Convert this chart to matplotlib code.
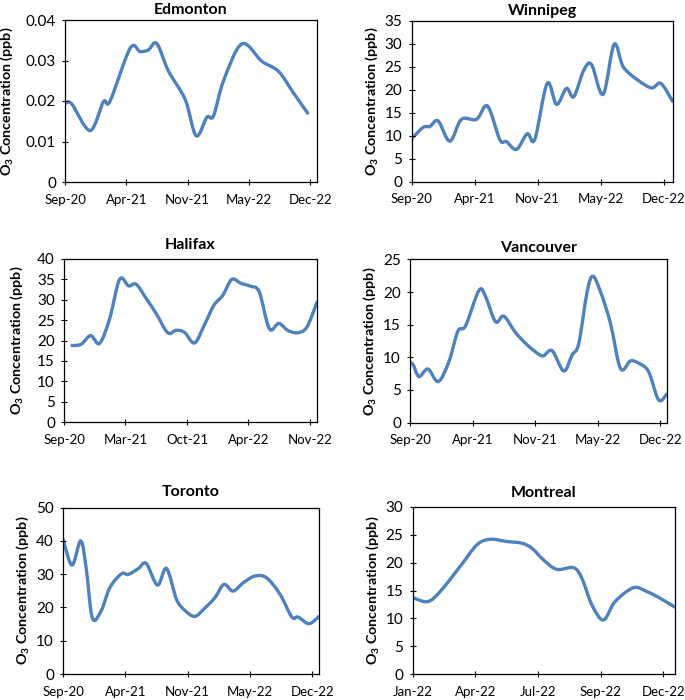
import numpy as np
import matplotlib
matplotlib.use("Agg")
import matplotlib.pyplot as plt
from matplotlib.path import Path
from matplotlib.patches import PathPatch
from matplotlib.ticker import FuncFormatter

plt.rcParams['font.family'] = ['Lato', 'DejaVu Sans']
plt.rcParams['mathtext.fontset'] = 'custom'
plt.rcParams['mathtext.rm'] = 'Lato'
plt.rcParams['mathtext.bf'] = 'Lato:bold'

# ---------------- data (x = months since axis start, y = O3) ----------------
edm_t = [0.0, 0.74, 2.79, 4.28, 5.02, 7.25, 8.36, 9.29, 10.22, 11.52, 13.38,
         14.61, 15.80, 16.54, 17.66, 19.70, 21.93, 23.79, 25.45, 27.03]
edm_o3 = [0.0193, 0.0193, 0.0127, 0.0198, 0.0200, 0.0330, 0.0322, 0.0326, 0.0342,
          0.0274, 0.0204, 0.0114, 0.0160, 0.0163, 0.0250, 0.0341, 0.0298, 0.0273,
          0.0220, 0.0170]
edm_ticks = ['Sep-20', 'Apr-21', 'Nov-21', 'May-22', 'Dec-22']

win_t = [0.0, 1.27, 2.0, 2.91, 4.18, 5.45, 7.09, 8.29, 9.64, 10.36, 11.45, 12.62,
         13.45, 14.8, 15.82, 16.9, 17.7, 18.8, 19.64, 20.9, 22.1, 23.1, 24.7, 26.2,
         27.2, 28.47]
win_o3 = [9.3, 11.8, 12.0, 13.2, 8.8, 13.55, 13.55, 16.45, 9.1, 8.7, 7.0, 10.4,
          9.2, 21.4, 16.8, 20.3, 18.5, 24.3, 25.5, 19.0, 29.9, 25.0, 22.1, 20.4,
          21.4, 17.5]
win_ticks = ['Sep-20', 'Apr-21', 'Nov-21', 'May-22', 'Dec-22']

hal_t = [0.855, 1.85, 2.85, 3.81, 4.88, 5.95, 6.91, 7.73, 8.80, 9.87, 11.1, 12.0,
         12.9, 13.97, 15.0, 16.03, 17.0, 17.96, 18.95, 20.0, 20.9, 21.98, 22.98,
         23.94, 25.0, 26.0, 27.08]
hal_o3 = [18.75, 19.1, 21.2, 19.3, 25.3, 35.0, 33.4, 33.8, 30.3, 26.6, 21.9, 22.5,
          22.0, 19.4, 23.7, 28.6, 31.1, 35.0, 34.0, 33.3, 31.9, 22.9, 24.2, 22.5,
          21.9, 23.3, 29.4]
hal_ticks = ['Sep-20', 'Mar-21', 'Oct-21', 'Apr-22', 'Nov-22']

van_t = [0.0, 0.37, 0.99, 1.98, 3.12, 4.29, 5.28, 6.13, 7.6, 8.33, 9.43, 10.35,
         11.63, 12.92, 14.2, 14.75, 15.67, 16.95, 17.87, 18.6, 19.52, 20.15, 21.0,
         22.1, 23.2, 24.3, 25.2, 26.3, 27.4, 28.3]
van_o3 = [9.23, 8.8, 7.04, 8.2, 6.28, 9.34, 14.0, 14.85, 20.25, 19.3, 15.46, 16.3,
          13.8, 11.9, 10.46, 10.26, 11.0, 7.9, 10.36, 12.1, 20.0, 22.45, 20.05,
          15.2, 8.3, 9.44, 9.1, 7.8, 3.47, 4.34]
van_ticks = ['Sep-20', 'Apr-21', 'Nov-21', 'May-22', 'Dec-22']

tor_t = [0.0, 1.0, 1.96, 2.58, 3.25, 4.24, 5.17, 6.46, 7.2, 8.3, 9.2, 10.44, 11.44,
         12.55, 13.47, 14.58, 15.68, 16.79, 17.79, 18.8, 19.93, 21.2, 22.5, 24.0,
         25.3, 26.0, 27.2, 28.3]
tor_o3 = [40.5, 32.7, 40.0, 31.4, 16.8, 19.1, 25.9, 30.1, 29.9, 31.6, 33.2, 26.7,
          31.7, 22.4, 19.1, 17.3, 19.8, 22.9, 26.9, 24.9, 27.4, 29.4, 28.9, 23.9,
          17.1, 17.1, 15.1, 17.3]
tor_ticks = ['Sep-20', 'Apr-21', 'Nov-21', 'May-22', 'Dec-22']

mon_t = [0.0, 0.67, 1.23, 2.12, 2.87, 3.46, 4.2, 4.87, 5.32, 5.84, 6.43, 7.18,
         7.55, 8.0, 8.51, 9.03, 9.85, 10.45, 11.04, 11.68]
mon_o3 = [13.74, 13.0, 14.8, 19.3, 23.2, 24.2, 23.8, 23.5, 22.6, 20.5, 18.8, 19.1,
          17.2, 12.4, 9.7, 13.0, 15.5, 14.8, 13.6, 12.06]
mon_ticks = ['Jan-22', 'Apr-22', 'Jul-22', 'Sep-22', 'Dec-22']

panels = [
    # name, t, y, tick labels, tick step, xmax, ymax, ystep, rect px (l, t, r, b), label offset px, title pad
    ('Edmonton', edm_t, edm_o3, edm_ticks, 6.83, 28.07, 0.04, 0.01, (65, 20, 317, 182), 58, 4.0),
    ('Winnipeg', win_t, win_o3, win_ticks, 6.88, 28.47, 35, 5, (411.5, 21, 672.5, 181.5), 40, 4.0),
    ('Halifax', hal_t, hal_o3, hal_ticks, 6.58, 27.08, 40, 5, (64, 259, 317, 422), 47, 7.5),
    ('Vancouver', van_t, van_o3, van_ticks, 6.90, 28.33, 25, 5, (410, 259.5, 667, 422.5), 40, 5.5),
    ('Toronto', tor_t, tor_o3, tor_ticks, 6.89, 28.3, 50, 10, (63, 507.5, 319, 674), 40, 8),
    ('Montreal', mon_t, mon_o3, mon_ticks, 2.797, 11.68, 30, 5, (412.5, 507, 674.5, 674), 40, 7.5),
]

W, H = 685, 700
LINE = '#4F81BD'


def smooth_path(x, y):
    pts = np.column_stack([x, y]).astype(float)
    P = np.vstack([pts[0], pts, pts[-1]])
    verts = [pts[0]]
    codes = [Path.MOVETO]
    for i in range(1, len(P) - 2):
        p0, p1, p2, p3 = P[i - 1], P[i], P[i + 1], P[i + 2]
        c1 = p1 + (p2 - p0) / 6.0
        c2 = p2 - (p3 - p1) / 6.0
        verts += [c1, c2, p2]
        codes += [Path.CURVE4] * 3
    return Path(verts, codes)


def fmt(v, pos):
    return ('%.2f' % v).rstrip('0').rstrip('.')


fig = plt.figure(figsize=(W / 100, H / 100), dpi=100)
fig.patch.set_facecolor('white')

for name, t, y, labels, step, xmax, ymax, ystep, (l, tp, r, b), loff, tpad in panels:
    ax = fig.add_axes([l / W, 1 - b / H, (r - l) / W, (b - tp) / H])
    patch = PathPatch(smooth_path(t, y), facecolor='none', edgecolor=LINE,
                      lw=2.4, capstyle='round', joinstyle='round')
    ax.add_patch(patch)
    ax.set_xlim(0, xmax)
    ax.set_ylim(0, ymax)
    ax.set_xticks(np.arange(len(labels)) * step)
    ax.set_xticklabels(labels)
    ax.set_yticks(np.arange(0, ymax + ystep / 2, ystep))
    ax.yaxis.set_major_formatter(FuncFormatter(fmt))
    ax.tick_params(direction='inout', length=5, width=0.8, colors='#000000')
    ax.tick_params(axis='x', pad=6, labelsize=9.5)
    ax.tick_params(axis='y', pad=4, labelsize=11)
    for sp in ax.spines.values():
        sp.set_linewidth(0.9)
        sp.set_color('#000000')
    ax.set_title(name, fontsize=11.5, fontweight='bold', pad=tpad)
    ax.set_ylabel(r'$\mathbf{O_3}$ Concentration (ppb)', fontsize=10.3,
                  fontweight='bold')
    ax.yaxis.label.set_verticalalignment('center')
    ax.yaxis.set_label_coords(-loff / (r - l), 0.5)

fig.savefig('out.png', dpi=100, facecolor='white')
